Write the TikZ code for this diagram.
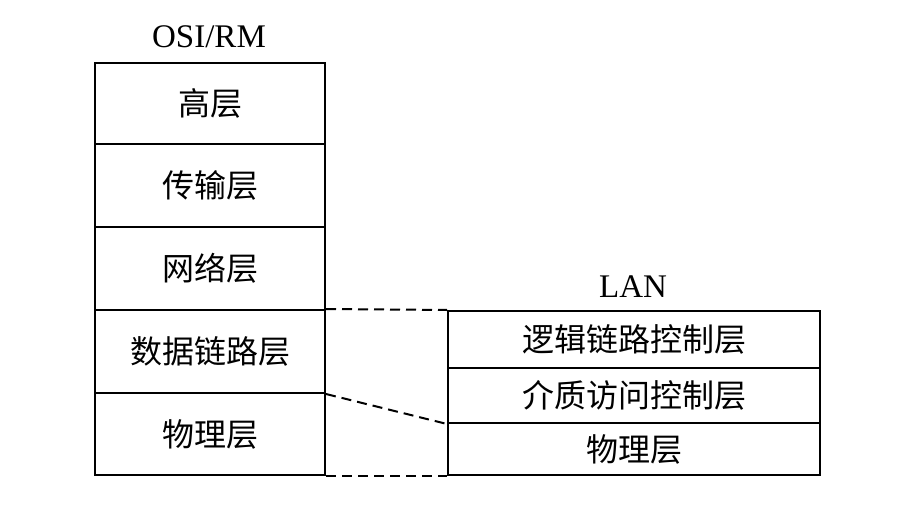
\documentclass[tikz,border=0pt]{standalone}
\usepackage{fontspec}
\setmainfont{Liberation Serif}
\newfontfamily\cjk{Noto Sans CJK SC}
\begin{document}
\begin{tikzpicture}[x=1pt,y=-1pt,
  layer/.style={draw,line width=2pt,inner sep=0pt,anchor=north west,font=\cjk\fontsize{32}{35}\selectfont},
  lrow/.style={layer,minimum width=230pt},
  rrow/.style={layer,minimum width=372pt},
  title/.style={font=\fontsize{33}{36}\selectfont,inner sep=0pt},
  conn/.style={line width=2pt,dash pattern=on 10pt off 6pt}]
\useasboundingbox (0,0) rectangle (918,508);
\node[lrow,minimum height=81pt] (hl) at (94,62) {高层};
\node[lrow,minimum height=83pt] (tl) at (94,143) {传输层};
\node[lrow,minimum height=83pt] (nl) at (94,226) {网络层};
\node[lrow,minimum height=83pt] (dl) at (94,309) {数据链路层};
\node[lrow,minimum height=82pt] (pl) at (94,392) {物理层};
\node[title] (osi) at (209,37) {OSI/RM};
\node[rrow,minimum height=57pt] (llc) at (447,310) {逻辑链路控制层};
\node[rrow,minimum height=55pt] (mac) at (447,367) {介质访问控制层};
\node[rrow,minimum height=52pt] (lphy) at (447,422) {物理层};
\node[title] (lan) at (633,287) {LAN};
\draw[conn] (dl.north east) -- (llc.north west);
\draw[conn] (dl.south east) -- (mac.south west);
\draw[conn] (pl.south east) -- (lphy.south west);
\end{tikzpicture}
\end{document}
